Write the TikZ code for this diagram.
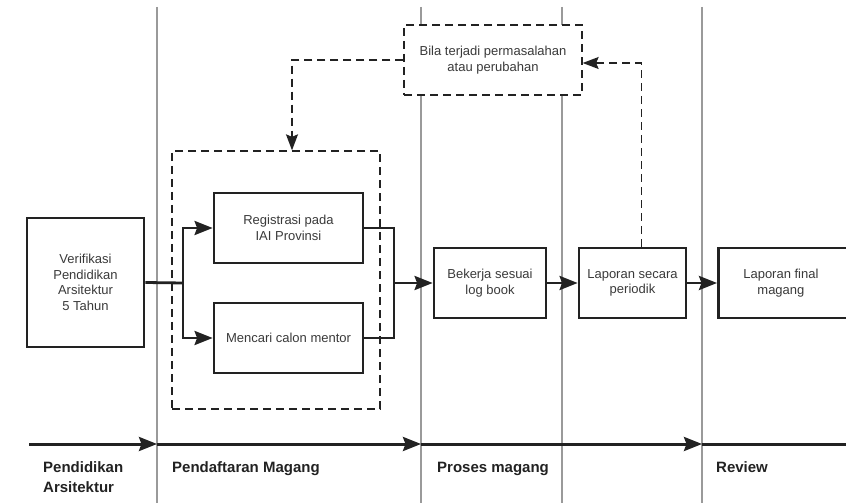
\documentclass[tikz,border=0pt]{standalone}
\usepackage{fontspec}
\setmainfont{Liberation Sans}
\usetikzlibrary{arrows.meta}
\definecolor{boxline}{HTML}{222222}
\definecolor{txt}{HTML}{3A3A3A}
\definecolor{lanegray}{HTML}{9A9A9A}
\begin{document}
\begin{tikzpicture}[x=1bp,y=-1bp,
  procbox/.style={draw=boxline, line width=2.8bp, fill=white, align=center, text=txt,
    font=\fontsize{13bp}{15.5bp}\selectfont, inner sep=0pt},
  conn/.style={draw=boxline, line width=2.8bp},
  tip/.style={-{Stealth[length=18bp,width=14bp,inset=2.5bp]}},
  dtip/.style={-{Stealth[length=16bp,width=12bp,inset=2.5bp]}},
  dline/.style={draw=boxline, line width=1.3bp, dash pattern=on 8bp off 5bp},
  lanel/.style={draw=lanegray, line width=1.2bp},
  phase/.style={font=\bfseries\fontsize{15bp}{20bp}\selectfont, text=boxline, align=left, inner sep=0pt}
]
\useasboundingbox (0,0) rectangle (846,503);
\clip (0,0) rectangle (846,503);

% swim lane separators
\draw[lanel] (157,7) -- (157,503);
\draw[lanel] (421,7) -- (421,503);
\draw[lanel] (562,7) -- (562,503);
\draw[lanel] (702,7) -- (702,503);

% dashed group around registration steps
\node[dline, minimum width=208bp, minimum height=258bp, inner sep=0pt] (grp) at (276,280) {};

% condition box
\node[dline, fill=white, minimum width=178bp, minimum height=70bp, align=center, text=txt,
  font=\fontsize{13bp}{16bp}\selectfont, inner sep=0pt] (cond) at (493,60)
  {Bila terjadi permasalahan\\atau perubahan};

% process boxes
\node[procbox, minimum width=117bp, minimum height=129bp] (verif) at (85.5,282.5)
  {Verifikasi\\Pendidikan\\Arsitektur\\5 Tahun};
\node[procbox, minimum width=149bp, minimum height=70bp] (reg) at (288.5,228)
  {Registrasi pada\\IAI Provinsi};
\node[procbox, minimum width=149bp, minimum height=70bp] (menc) at (288.5,338)
  {Mencari calon mentor};
\node[procbox, minimum width=112bp, minimum height=70bp] (bek) at (490,283)
  {Bekerja sesuai\\log book};
\node[procbox, minimum width=107bp, minimum height=70bp] (lapp) at (632.5,283)
  {Laporan secara\\periodik};
\node[procbox, minimum width=150bp, minimum height=70bp, anchor=west,
  label={[xshift=-12.5bp, align=center, text=txt, font=\fontsize{13bp}{15.5bp}\selectfont]center:Laporan final\\magang}]
  (lapf) at (717,283) {};

% junctions
\coordinate (j1) at (183,283);
\coordinate (j2) at (394,283);

% connectors
\draw[conn] (verif.east) -- (j1);
\draw[conn,tip] (j1) |- (reg.west);
\draw[conn,tip] (j1) |- (menc.west);
\draw[conn] (reg.east) -| (j2);
\draw[conn] (menc.east) -| (j2);
\draw[conn,tip] (j2) -- (bek.west);
\draw[conn,tip] (bek.east) -- (lapp.west);
\draw[conn,tip] (lapp.east) -- (lapf.west);

% dashed feedback connectors
\draw[dline,dtip] ([xshift=9bp]lapp.north) |- ([yshift=-3bp]cond.east);
\draw[dline,dtip] (cond.west) -| ([xshift=16bp]grp.north);

% timeline
\coordinate (t0) at (29,444);
\coordinate (t1) at (157,444);
\coordinate (t2) at (421,444);
\coordinate (t3) at (702,444);
\coordinate (t4) at (846,444);
\draw[conn,tip,line width=3bp] (t0) -- (t1);
\draw[conn,tip,line width=3bp] (t1) -- (t2);
\draw[conn,tip,line width=3bp] (t2) -- (t3);
\draw[conn,line width=3bp] (t3) -- (t4);

% phase labels
\node[phase, anchor=north west] (p1) at (43,461) {Pendidikan\\Arsitektur};
\node[phase, anchor=base west] (p2) at (172,472) {Pendaftaran Magang};
\node[phase, anchor=base west] (p3) at (437,472) {Proses magang};
\node[phase, anchor=base west] (p4) at (716,472) {Review};
\end{tikzpicture}
\end{document}
